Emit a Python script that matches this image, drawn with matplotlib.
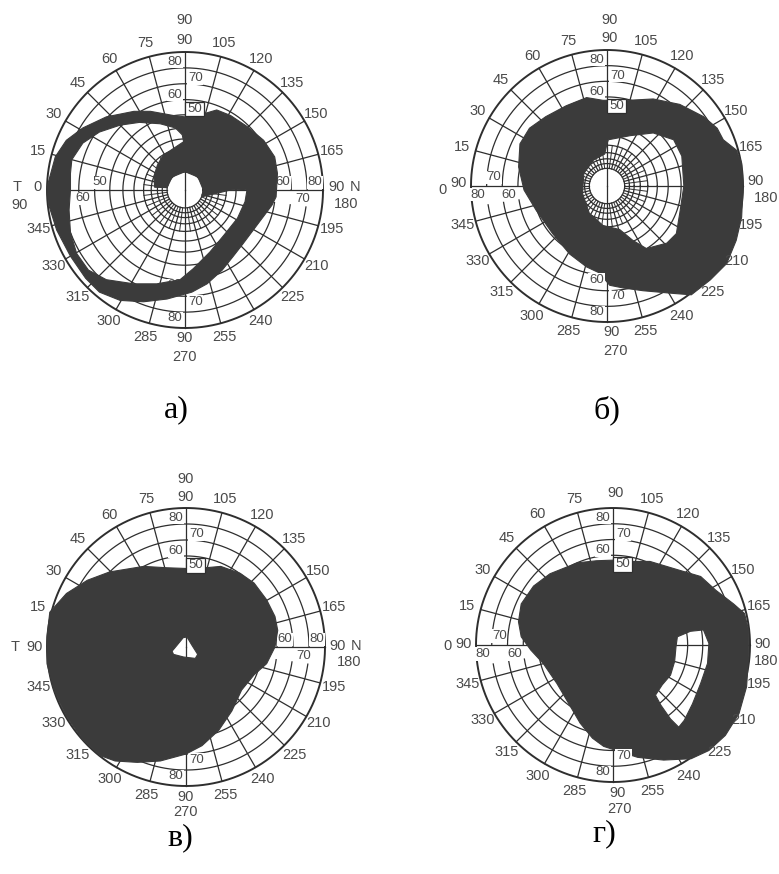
import numpy as np
import matplotlib.pyplot as plt
from matplotlib.path import Path
from matplotlib.patches import PathPatch, Rectangle

W, H = 779, 874
OUTPUT_FILE = "out.png"

LINE = "#2e2e2e"
TEXT = "#4a4a4a"
DARK = "#3b3b3b"

# chart centre and outer ring radius, image pixels
CENTERS = {"а": (185, 190), "б": (607, 186), "в": (186, 647), "г": (613, 645)}
RADII = {"а": 138, "б": 136, "в": 139, "г": 137}
CAPTION_POS = {"а": (176, 410), "б": (607, 410), "в": (180, 838), "г": (604, 834)}

# isopter rings as fraction of the outer ring (inner rings are denser)
RINGS = [0.13, 0.165, 0.20, 0.245, 0.30, 0.37, 0.45, 0.545, 0.655, 0.77, 0.885, 1.0]
MERIDIANS = [15, 30, 45, 60, 75, 105, 120, 135, 150, 165,
             195, 210, 225, 240, 255, 285, 300, 315, 330, 345]

# ring numbers written along the axes (x, y in outer-radius units)
TOP_AXIS = [("80", -0.075, 0.93), ("70", 0.075, 0.81), ("60", -0.075, 0.69)]
BOTTOM_AXIS = [("60", -0.075, -0.69), ("70", 0.075, -0.81), ("80", -0.075, -0.93)]
HORIZ_TN = [("50", -0.62, 0.055), ("60", -0.74, -0.06),
            ("60", 0.71, 0.055), ("80", 0.94, 0.055), ("70", 0.85, -0.065)]
HORIZ_0 = [("70", -0.83, 0.065), ("80", -0.95, -0.065), ("60", -0.72, -0.065)]

# outside labels per chart
EDGE_LABELS = {
    "а": [("90", 0, 1.09), ("90", 0, 1.23), ("90", 0, -1.07), ("270", 0, -1.21),
          ("0", -1.07, 0.02), ("T", -1.22, 0.02), ("90", -1.20, -0.11),
          ("90", 1.10, 0.02), ("N", 1.235, 0.02), ("180", 1.17, -0.10)],
    "б": [("90", 0.02, 1.09), ("90", 0.02, 1.22), ("90", 0.03, -1.07), ("270", 0.06, -1.21),
          ("0", -1.21, -0.03), ("90", -1.09, 0.02), ("90", 1.09, 0.04), ("180", 1.17, -0.09)],
    "в": [("90", 0, 1.08), ("90", 0, 1.21), ("90", 0, -1.08), ("270", 0, -1.19),
          ("T", -1.23, 0.0), ("90", -1.09, 0.0),
          ("90", 1.09, 0.01), ("N", 1.22, 0.01), ("180", 1.17, -0.11)],
    "г": [("90", 0.02, 1.11), ("90", 0.03, -1.08), ("270", 0.05, -1.20),
          ("0", -1.21, -0.01), ("90", -1.09, 0.01), ("90", 1.09, 0.01), ("180", 1.12, -0.12)],
}

# scotoma (dark) areas, (x, y) in outer-radius units
A_OUTER = [(-1.00, 0.02), (-0.94, 0.24), (-0.86, 0.36), (-0.74, 0.45), (-0.57, 0.53),
           (-0.37, 0.57), (-0.25, 0.57), (-0.085, 0.54), (0.0, 0.53), (0.145, 0.555),
           (0.23, 0.58), (0.33, 0.54), (0.45, 0.46), (0.57, 0.36), (0.65, 0.24),
           (0.67, 0.12), (0.66, -0.05), (0.63, -0.11), (0.57, -0.19), (0.495, -0.29),
           (0.42, -0.39), (0.35, -0.48), (0.27, -0.58), (0.16, -0.68), (0.05, -0.74),
           (-0.13, -0.79), (-0.30, -0.81), (-0.47, -0.80), (-0.62, -0.74), (-0.72, -0.64),
           (-0.83, -0.48), (-0.93, -0.29), (-0.99, -0.10)]
A_HOLE = [(-0.82, 0.22), (-0.74, 0.34), (-0.62, 0.42), (-0.47, 0.47), (-0.33, 0.49),
          (-0.18, 0.48), (-0.07, 0.45), (-0.02, 0.40), (-0.01, 0.35), (-0.085, 0.30),
          (-0.16, 0.25), (-0.20, 0.18), (-0.225, 0.10), (-0.22, 0.02), (-0.13, 0.017),
          (-0.094, 0.094), (0.0, 0.133), (0.094, 0.094), (0.133, 0.0), (0.12, -0.05),
          (0.205, -0.03), (0.33, 0.0), (0.45, 0.005), (0.435, -0.085), (0.38, -0.205),
          (0.28, -0.33), (0.18, -0.45), (0.06, -0.57), (-0.036, -0.65), (-0.205, -0.68),
          (-0.37, -0.68), (-0.57, -0.65), (-0.70, -0.58), (-0.785, -0.46), (-0.83, -0.31),
          (-0.84, -0.145), (-0.83, 0.0), (-0.83, 0.12)]

B_OUTER = [(-0.15, 0.65), (-0.03, 0.63), (0.155, 0.63), (0.34, 0.64), (0.535, 0.60),
           (0.71, 0.51), (0.81, 0.425), (0.855, 0.34), (0.95, 0.265), (0.99, 0.17),
           (1.00, 0.0), (0.99, -0.23), (0.95, -0.40), (0.88, -0.57), (0.76, -0.69),
           (0.62, -0.80), (0.49, -0.79), (0.265, -0.77), (0.12, -0.75), (0.02, -0.73),
           (-0.054, -0.64), (-0.15, -0.595), (-0.275, -0.50), (-0.40, -0.35), (-0.52, -0.18),
           (-0.61, -0.03), (-0.65, 0.14), (-0.64, 0.31), (-0.57, 0.425), (-0.45, 0.51),
           (-0.30, 0.59)]
B_HOLE = [(0.01, 0.34), (0.17, 0.37), (0.34, 0.39), (0.49, 0.34), (0.55, 0.22),
          (0.565, 0.0), (0.535, -0.20), (0.51, -0.35), (0.44, -0.42), (0.29, -0.46),
          (0.19, -0.40), (0.093, -0.32), (-0.03, -0.29), (-0.13, -0.20), (-0.18, -0.054),
          (-0.17, 0.093), (-0.10, 0.19), (-0.017, 0.235), (0.0, 0.31)]

V_OUTER = [(-0.98, 0.25), (-0.86, 0.385), (-0.71, 0.48), (-0.55, 0.54), (-0.305, 0.58),
           (-0.137, 0.57), (0.0, 0.565), (0.14, 0.57), (0.25, 0.58), (0.39, 0.53),
           (0.49, 0.46), (0.58, 0.34), (0.64, 0.22), (0.66, 0.12), (0.64, 0.0),
           (0.58, -0.12), (0.49, -0.20), (0.40, -0.31), (0.33, -0.46), (0.235, -0.60),
           (0.115, -0.71), (0.0, -0.77), (-0.185, -0.82), (-0.35, -0.83), (-0.51, -0.82),
           (-0.62, -0.78), (-0.74, -0.67), (-0.86, -0.50), (-0.95, -0.31), (-1.00, -0.12),
           (-1.00, 0.07)]
V_HOLE = [(-0.10, -0.03), (-0.065, 0.012), (-0.02, 0.067), (0.007, 0.072), (0.043, 0.012),
          (0.084, -0.053), (0.067, -0.082), (-0.017, -0.072), (-0.09, -0.053)]

G_OUTER = [(-0.26, 0.60), (-0.12, 0.615), (0.017, 0.62), (0.15, 0.61), (0.27, 0.61),
           (0.47, 0.55), (0.64, 0.50), (0.75, 0.40), (0.88, 0.30), (0.96, 0.23),
           (0.99, 0.11), (0.99, -0.085), (0.975, -0.305), (0.92, -0.50), (0.82, -0.66),
           (0.70, -0.77), (0.57, -0.83), (0.37, -0.84), (0.18, -0.82), (0.054, -0.78),
           (-0.068, -0.74), (-0.15, -0.68), (-0.24, -0.57), (-0.31, -0.45), (-0.41, -0.28),
           (-0.51, -0.134), (-0.60, -0.037), (-0.67, 0.06), (-0.69, 0.17), (-0.67, 0.30),
           (-0.58, 0.43), (-0.46, 0.52)]
G_HOLE = [(0.47, 0.06), (0.565, 0.10), (0.66, 0.11), (0.70, 0.012), (0.69, -0.134),
          (0.64, -0.28), (0.58, -0.43), (0.52, -0.55), (0.48, -0.60), (0.42, -0.54),
          (0.35, -0.44), (0.31, -0.366), (0.36, -0.29), (0.42, -0.22), (0.45, -0.12),
          (0.46, -0.012)]

FIELDS = {"а": (A_OUTER, [A_HOLE]), "б": (B_OUTER, [B_HOLE]),
          "в": (V_OUTER, [V_HOLE]), "г": (G_OUTER, [G_HOLE])}
# chart layout: "TN" has T/N sides, "0" has 0 on the left
LAYOUT = {"а": "TN", "б": "0", "в": "TN", "г": "0"}
BOXED = {"а": [], "б": [("60", -0.075, -0.69)], "в": [], "г": [("70", 0.075, -0.81)]}


def to_px(cx, cy, R, pts):
    p = np.asarray(pts, float)
    return np.column_stack([cx + p[:, 0] * R, cy - p[:, 1] * R])


def signed_area(p):
    x, y = p[:, 0], p[:, 1]
    return 0.5 * np.sum(x * np.roll(y, -1) - np.roll(x, -1) * y)


def ring_path(p, ccw):
    if (signed_area(p) > 0) != ccw:
        p = p[::-1]
    verts = np.vstack([p, p[:1]])
    codes = [Path.MOVETO] + [Path.LINETO] * (len(p) - 1) + [Path.CLOSEPOLY]
    return verts, codes


def draw_chart(ax, key):
    cx, cy = CENTERS[key]
    R = RADII[key]
    layout = LAYOUT[key]

    # gap in the rings just under the horizontal axis (screen degrees)
    gap = (-8, 0) if layout == "TN" else (180, 189)

    for r in RINGS:
        if 0.45 <= r < 1.0:
            t = np.radians(np.linspace(gap[1], gap[0] + 360, 500))
        else:
            t = np.linspace(0, 2 * np.pi, 500)
        ax.plot(cx + r * R * np.cos(t), cy - r * R * np.sin(t), color=LINE,
                lw=1.4 if r == 1.0 else 0.9, zorder=1)

    # meridians every 15 deg, extra short ones near the centre
    for m in range(0, 360, 15):
        s = np.radians(180 - m)
        r0, r1 = RINGS[0], 1.0
        if m in (90, 270):
            r0 = 0.0
        if m == 0 and layout == "TN":
            r1 = 0.83
        ax.plot([cx + r0 * R * np.cos(s), cx + r1 * R * np.cos(s)],
                [cy - r0 * R * np.sin(s), cy - r1 * R * np.sin(s)],
                color=LINE, lw=0.9, zorder=1)
    for m in np.arange(7.5, 360, 15):
        s = np.radians(180 - m)
        ax.plot([cx + RINGS[0] * R * np.cos(s), cx + 0.30 * R * np.cos(s)],
                [cy - RINGS[0] * R * np.sin(s), cy - 0.30 * R * np.sin(s)],
                color=LINE, lw=0.7, zorder=1)

    def put(s, x, y, size=10.5, z=2, **kw):
        ax.text(cx + x * R, cy - y * R, s, ha="center", va="center", fontsize=size,
                color=TEXT, family="Liberation Sans", zorder=z, **kw)

    for s, x, y in TOP_AXIS + BOTTOM_AXIS + (HORIZ_TN if layout == "TN" else HORIZ_0):
        put(s, x, y, size=9.5,
            bbox=dict(boxstyle="square,pad=0.05", fc="white", ec="none"))
    for s, x, y in BOXED[key]:
        put(s, x, y, size=9.5, z=5,
            bbox=dict(boxstyle="square,pad=0.1", fc="white", ec="none"))

    # scotoma
    outer, holes = FIELDS[key]
    v, c = ring_path(to_px(cx, cy, R, outer), True)
    verts, codes = [v], list(c)
    for h in holes:
        v, c = ring_path(to_px(cx, cy, R, h), False)
        verts.append(v)
        codes += c
    ax.add_patch(PathPatch(Path(np.vstack(verts), codes), fc=DARK, ec=DARK,
                           lw=0.8, joinstyle="round", zorder=3))

    # white box with 50 on the vertical axis
    ax.add_patch(Rectangle((cx, cy - 0.64 * R), 0.14 * R, 0.105 * R, fc="white",
                           ec=LINE, lw=0.9, zorder=4))
    put("50", 0.07, 0.588, size=9.5, z=5)

    for m in MERIDIANS:
        s = np.radians(180 - m)
        put(str(m), 1.10 * np.cos(s), 1.10 * np.sin(s), z=5)
    for s, x, y in EDGE_LABELS[key]:
        put(s, x, y, z=5)

    px, py = CAPTION_POS[key]
    ax.text(px, py, key + ")", ha="center", va="center", fontsize=23,
            family="Liberation Serif", color="black", zorder=6)


fig = plt.figure(figsize=(W / 100, H / 100), dpi=100)
ax = fig.add_axes([0, 0, 1, 1])
ax.set_xlim(0, W)
ax.set_ylim(H, 0)
ax.axis("off")

for k in ["а", "б", "в", "г"]:
    draw_chart(ax, k)

fig.savefig(OUTPUT_FILE, dpi=100)
